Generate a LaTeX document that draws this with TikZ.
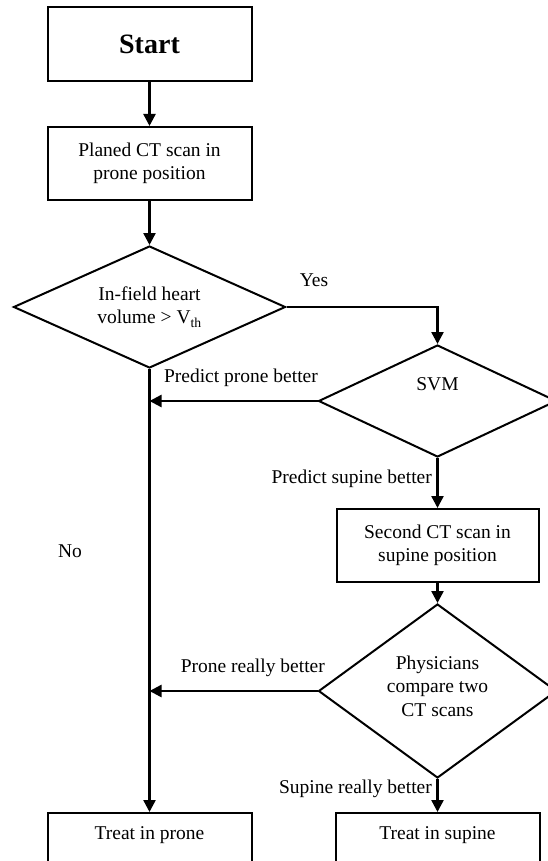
\documentclass[tikz,border=0pt]{standalone}
\usepackage{fontspec}
\setmainfont{Liberation Serif}
\usetikzlibrary{shapes.geometric,arrows.meta}

\begin{document}
\begin{tikzpicture}[x=1pt,y=-1pt,
  font=\fontsize{19.5}{23.5}\selectfont,
  box/.style={draw, line width=2pt, rectangle, inner sep=0pt, align=center},
  decision/.style={draw, line width=2pt, diamond, inner sep=0pt},
  txt/.style={inner sep=0pt, align=center},
  flow/.style={line width=2.4pt, -{Triangle[width=12pt,length=12pt]}}
]
\useasboundingbox (0,0) rectangle (548,861);
\clip (0,0) rectangle (548,861);

% process boxes
\node[box, minimum width=204pt, minimum height=74pt,
      font=\fontsize{28}{30}\selectfont\bfseries] (start) at (149.5,44) {Start};
\node[box, minimum width=204pt, minimum height=73pt] (plan) at (149.5,163.5)
  {Planed CT scan in\\prone position};
\node[box, minimum width=202pt, minimum height=73pt] (second) at (437.5,545.5)
  {Second CT scan in\\supine position};
\node[box, minimum width=204pt, minimum height=90pt] (prone) at (149.5,858) {};
\node[box, minimum width=204pt, minimum height=90pt] (supine) at (437.5,858) {};
\node[txt] (pronetxt) at (149.5,835) {Treat in prone};
\node[txt] (supinetxt) at (437.5,835) {Treat in supine};

% decisions
\node[decision, minimum width=272pt, minimum height=122pt] (d1) at (149.5,307) {};
\node[txt] (d1txt) at (149.5,307) {In-field heart\\volume > V\textsubscript{th}};
\node[decision, minimum width=238pt, minimum height=112pt] (svm) at (437.5,401) {};
\node[txt] (svmtxt) at (437.5,384) {SVM};
\node[decision, minimum width=238pt, minimum height=174pt] (d3) at (437.5,691) {};
\node[txt] (d3txt) at (437.5,686) {Physicians\\compare two\\CT scans};

% join points on the prone column
\coordinate (j1) at (prone.north |- svm.west);
\coordinate (j2) at (prone.north |- d3.west);

% connectors
\draw[flow] (start.south) -- (plan.north);
\draw[flow] (plan.south) -- (d1.north);
\draw[flow] (d1.east) -| (svm.north);
\draw[flow] (d1.south) -- (prone.north);
\draw[flow] (svm.west) -- (j1);
\draw[flow] (svm.south) -- (second.north);
\draw[flow] (second.south) -- (d3.north);
\draw[flow] (d3.west) -- (j2);
\draw[flow] (d3.south) -- (supine.north);

% branch labels
\node[txt] (yes) at (314,280) {Yes};
\node[txt] (no) at (70,551) {No};
\node[txt, anchor=east] (ppb) at (318,378) {Predict prone better};
\node[txt, anchor=east] (psb) at (432,479) {Predict supine better};
\node[txt, anchor=east] (prb) at (325,668) {Prone really better};
\node[txt, anchor=east] (srb) at (432,789) {Supine really better};
\end{tikzpicture}
\end{document}
